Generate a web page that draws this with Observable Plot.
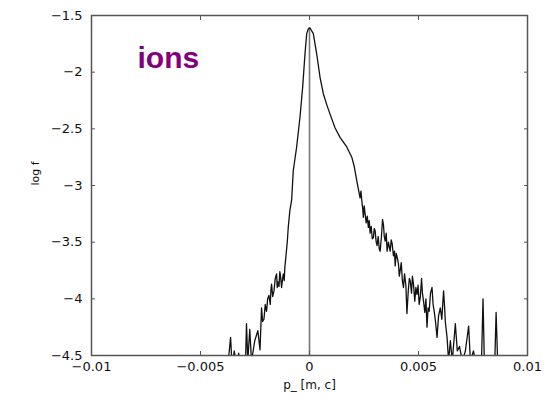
<!DOCTYPE html>
<html><head><meta charset="utf-8">
<script src="https://cdn.jsdelivr.net/npm/d3@7"></script>
<script src="https://cdn.jsdelivr.net/npm/@observablehq/plot@0.6"></script>
<style>
html,body{margin:0;padding:0;background:#fff;}
#chart svg{display:block;}
</style>
</head><body><div id="chart"></div>
<script>
// ---- data ----
const xTicks = [-0.01, -0.005, 0, 0.005, 0.01];
const yTicks = [-1.5, -2, -2.5, -3, -3.5, -4, -4.5];
const xTickLabels = ["\u22120.01", "\u22120.005", "0", "0.005", "0.01"];
const yTickLabels = ["\u22121.5", "\u22122", "\u22122.5", "\u22123", "\u22123.5", "\u22124", "\u22124.5"];
// parallel momentum in units of 1e-4 m_e c
const pPar = [
  -37.5, -36.2, -35.5, -34.5, -33.5, -32.5, -31.5, -29.4, -28.9, -28.3,
  -27.4, -26.6, -25.1, -23.7, -22.7, -22.0, -21.5, -20.9, -20.3, -19.7,
  -19.2, -18.6, -18.0, -17.7, -17.4, -16.9, -16.3, -15.7, -15.1, -14.8,
  -14.5, -14.0, -13.6, -13.3, -12.8, -12.4, -12.0, -11.6, -11.3, -10.6,
  -10.2, -9.75, -9.0, -8.2, -7.45, -5.9, -4.37, -3.13, -2.07, -1.29,
  -0.46, 0.23, 1.75, 3.31, 4.83, 6.34, 8.05, 9.43, 11.7, 14.0,
  17.1, 19.4, 20.5, 21.7, 23.2, 23.6, 24.0, 24.4, 24.7, 25.1,
  25.5, 26.0, 26.5, 27.0, 27.4, 27.8, 28.3, 28.8, 29.3, 29.7,
  30.1, 30.6, 31.0, 31.5, 32.0, 32.4, 33.0, 33.5, 33.9, 34.3,
  34.7, 35.2, 35.6, 36.2, 37.0, 37.5, 37.9, 38.5, 39.0, 39.3,
  39.8, 40.3, 40.8, 41.2, 41.6, 42.1, 42.6, 43.1, 43.6, 44.2,
  44.7, 45.3, 45.8, 46.2, 46.8, 47.2, 47.7, 48.3, 48.8, 49.3,
  49.8, 50.3, 50.8, 51.4, 51.8, 52.3, 52.9, 53.4, 53.9, 54.4,
  54.9, 55.5, 56.2, 56.7, 57.2, 57.8, 58.5, 59.2, 60.0, 60.7,
  61.5, 61.9, 62.3, 63.1, 63.8, 64.6, 65.5, 66.9, 67.8, 68.8,
  70.1, 71.5, 73.0, 73.8, 75.2, 76.1, 78.9, 79.6, 80.2, 85.0,
  85.6, 86.3, 87.6
];
// log f values
const logF = [
  -4.6, -4.34, -4.6, -4.46, -4.6, -4.48, -4.6, -4.6, -4.22, -4.55,
  -4.27, -4.55, -4.37, -4.28, -4.45, -4.08, -4.20, -4.18, -4.05, -4.11,
  -4.00, -3.97, -4.05, -3.92, -3.87, -3.98, -3.93, -3.82, -3.78, -3.90,
  -3.85, -3.89, -3.76, -3.80, -3.90, -3.83, -3.78, -3.84, -3.72, -3.58,
  -3.50, -3.37, -3.22, -3.13, -2.87, -2.66, -2.40, -2.13, -1.84, -1.66,
  -1.615, -1.61, -1.66, -1.84, -2.045, -2.19, -2.295, -2.37, -2.49, -2.575,
  -2.66, -2.75, -2.83, -2.96, -3.11, -3.05, -3.135, -3.20, -3.28, -3.18,
  -3.25, -3.33, -3.27, -3.37, -3.31, -3.42, -3.36, -3.47, -3.46, -3.38,
  -3.40, -3.50, -3.53, -3.45, -3.56, -3.58, -3.45, -3.30, -3.34, -3.45,
  -3.49, -3.42, -3.58, -3.50, -3.58, -3.48, -3.51, -3.62, -3.58, -3.71,
  -3.60, -3.64, -3.69, -3.80, -3.75, -3.68, -3.84, -3.90, -3.78, -3.88,
  -4.13, -3.93, -3.82, -3.84, -3.95, -3.80, -3.87, -4.02, -3.90, -3.96,
  -3.88, -4.05, -3.99, -3.82, -3.95, -4.02, -4.12, -4.00, -4.25, -4.08,
  -4.11, -3.95, -3.90, -4.05, -4.11, -4.20, -4.34, -4.15, -4.08, -4.18,
  -3.93, -4.05, -4.20, -4.34, -4.55, -4.37, -4.55, -4.22, -4.46, -4.42,
  -4.55, -4.46, -4.24, -4.55, -4.46, -4.55, -4.55, -4.00, -4.55, -4.55,
  -4.12, -4.55, -4.6
];
const title = "ions";
const xLabel = "p_ [m, c]";
const yLabel = "log f";

const data = pPar.map((p, i) => ({p: p * 1e-4, f: logF[i]}));
const xFmt = d => xTickLabels[xTicks.indexOf(d)];
const yFmt = d => yTickLabels[yTicks.indexOf(d)];
const font = "DejaVu Sans";

const chart = Plot.plot({
  width: 552,
  height: 404,
  marginLeft: 91,
  marginRight: 25,
  marginTop: 15,
  marginBottom: 49,
  style: {fontFamily: font, background: "#fff", color: "#111"},
  x: {domain: [xTicks[0], xTicks[xTicks.length - 1]]},
  y: {domain: [yTicks[yTicks.length - 1], yTicks[0]]},
  marks: [
    Plot.ruleX([0], {y1: yTicks[yTicks.length - 1], y2: d3.max(logF), stroke: "#777", strokeWidth: 1.6}),
    Plot.line(data, {x: "p", y: "f", stroke: "#111", strokeWidth: 1.3, clip: true}),
    Plot.frame({stroke: "#555", strokeWidth: 1.5}),
    Plot.axisX(xTicks, {anchor: "bottom", tickSize: -4, tickPadding: 10, tickFormat: xFmt, label: null, fontSize: 13, fill: "#111", stroke: "#555"}),
    Plot.axisX(xTicks, {anchor: "top", tickSize: -4, tickFormat: () => "", label: null, stroke: "#555"}),
    Plot.axisY(yTicks, {anchor: "left", tickSize: -4, tickPadding: 13, tickFormat: yFmt, label: null, fontSize: 13, fill: "#111", stroke: "#555"}),
    Plot.axisY(yTicks, {anchor: "right", tickSize: -4, tickFormat: () => "", label: null, stroke: "#555"}),
    Plot.text([xLabel], {frameAnchor: "bottom", dy: 33, fontSize: 12, fill: "#111"}),
    Plot.text([yLabel], {frameAnchor: "left", dx: -56, rotate: -90, fontSize: 11, fill: "#111"}),
    Plot.text([title], {frameAnchor: "top-left", dx: 46, dy: 31, textAnchor: "start", fontSize: 30, fontWeight: "bold", fill: "#800080", fontFamily: "Liberation Sans"})
  ]
});
document.getElementById("chart").append(chart);
</script>
</body></html>
